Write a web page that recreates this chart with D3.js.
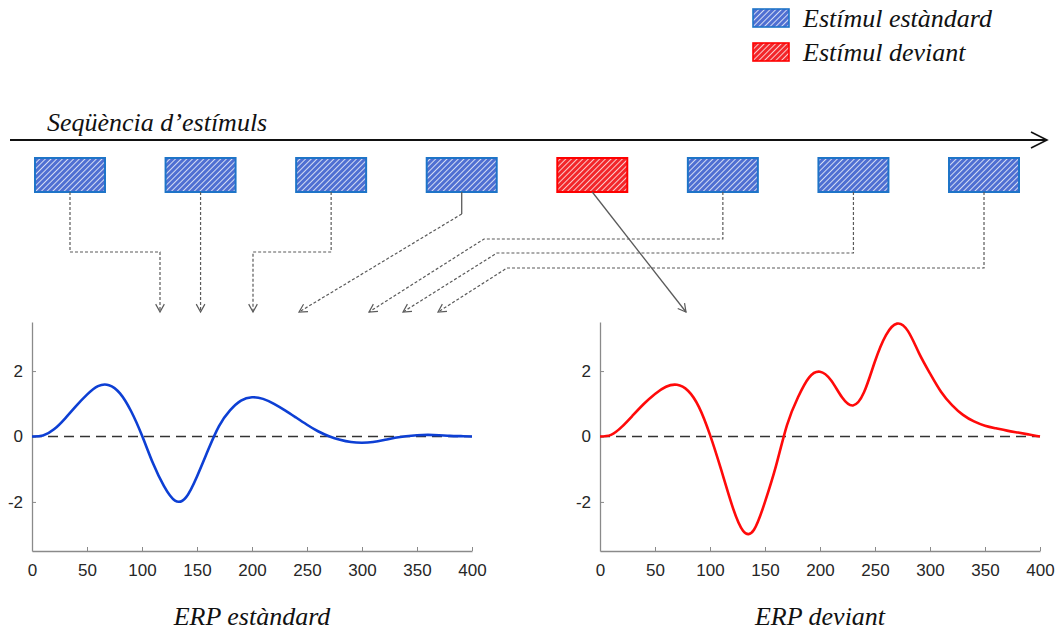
<!DOCTYPE html>
<html>
<head>
<meta charset="utf-8">
<script src="https://cdn.jsdelivr.net/npm/d3@7"></script>
<style>
  html, body { margin: 0; padding: 0; background: #fff; }
  svg { display: block; }
  .tick text { font-family: "Liberation Sans", Arial, sans-serif; font-size: 17px; fill: #262626; }
  .label { font-family: "Liberation Serif", "Times New Roman", serif; font-style: italic; fill: #111; }
</style>
</head>
<body>
<svg id="chart" width="1055" height="632"></svg>
<script>
// ---- Data ----------------------------------------------------------------
// Stimulus sequence (s = standard, d = deviant)
const stimulusTypes = ["s", "s", "s", "s", "d", "s", "s", "s"];

// ERP time axis (ms), sampled every 10 ms
const timeMs = [0, 10, 20, 30, 40, 50, 60, 70, 80, 90, 100, 110, 120, 130, 140, 150, 160, 170, 180, 190, 200,
  210, 220, 230, 240, 250, 260, 270, 280, 290, 300, 310, 320, 330, 340, 350, 360, 370, 380, 390, 400];

// Standard ERP amplitude
const erpStandard = [0, 0.03, 0.22, 0.55, 0.93, 1.28, 1.54, 1.57, 1.32, 0.78, 0.03, -0.82, -1.52, -1.96, -1.86,
  -1.22, -0.42, 0.32, 0.8, 1.1, 1.2, 1.15, 1.0, 0.8, 0.58, 0.36, 0.16, 0.01, -0.1, -0.17, -0.19, -0.17, -0.11,
  -0.04, 0.01, 0.04, 0.05, 0.04, 0.02, 0.01, 0];

// Deviant ERP amplitude
const erpDeviant = [0, 0.05, 0.3, 0.65, 1.0, 1.3, 1.52, 1.58, 1.4, 0.9, 0.05, -1.0, -2.1, -2.88, -2.85, -2.0,
  -0.9, 0.35, 1.2, 1.8, 1.98, 1.72, 1.2, 0.95, 1.35, 2.3, 3.1, 3.45, 3.22, 2.55, 1.93, 1.37, 0.96, 0.66, 0.46,
  0.33, 0.25, 0.18, 0.12, 0.06, 0];

const xTicks = [0, 50, 100, 150, 200, 250, 300, 350, 400];
const yTicks = [-2, 0, 2];

// ---- Setup ---------------------------------------------------------------
const svg = d3.select("#chart");
const defs = svg.append("defs");

function hatch(id, bg) {
  const p = defs.append("pattern")
    .attr("id", id).attr("patternUnits", "userSpaceOnUse")
    .attr("width", 4).attr("height", 4)
    .attr("patternTransform", "rotate(45)");
  p.append("rect").attr("width", 4).attr("height", 4).attr("fill", bg);
  p.append("line").attr("x1", 0).attr("y1", 0).attr("x2", 0).attr("y2", 4)
    .attr("stroke", "#fff").attr("stroke-width", 1.5);
}
hatch("hatchStd", "#4f6fd2");
hatch("hatchDev", "#f2262a");

const boxStyle = {
  s: { fill: "url(#hatchStd)", stroke: "#1e74c8" },
  d: { fill: "url(#hatchDev)", stroke: "#ff0000" }
};

// ---- Legend --------------------------------------------------------------
const legendItems = [
  { type: "s", text: "Estímul estàndard" },
  { type: "d", text: "Estímul deviant" }
];
const legendY = d3.scalePoint().domain(d3.range(legendItems.length)).range([9, 43]);
const lg = svg.append("g").selectAll("g").data(legendItems).join("g")
  .attr("transform", (d, i) => `translate(753,${legendY(i)})`);
lg.append("rect").attr("width", 36).attr("height", 18)
  .attr("fill", d => boxStyle[d.type].fill)
  .attr("stroke", d => boxStyle[d.type].stroke).attr("stroke-width", 1.6);
lg.append("text").attr("class", "label").attr("x", 50).attr("y", 18)
  .attr("font-size", 26).text(d => d.text);

// ---- Stimulus sequence ---------------------------------------------------
svg.append("text").attr("class", "label").attr("x", 47).attr("y", 131)
  .attr("font-size", 26).text("Seqüència d’estímuls");

const seqY = 140;
svg.append("line").attr("x1", 10).attr("x2", 1046).attr("y1", seqY).attr("y2", seqY)
  .attr("stroke", "#111").attr("stroke-width", 1.8);
svg.append("path").attr("d", `M1031,${seqY - 8} L1047,${seqY} L1031,${seqY + 8}`)
  .attr("fill", "none").attr("stroke", "#111").attr("stroke-width", 1.6);

const boxX = d3.scaleBand().domain(d3.range(stimulusTypes.length))
  .range([35, 1019]).paddingInner(0.464).paddingOuter(0);
const boxTop = 158, boxH = 34, boxBottom = boxTop + boxH;

svg.append("g").selectAll("rect").data(stimulusTypes).join("rect")
  .attr("x", (d, i) => boxX(i)).attr("y", boxTop)
  .attr("width", boxX.bandwidth()).attr("height", boxH)
  .attr("fill", d => boxStyle[d].fill)
  .attr("stroke", d => boxStyle[d].stroke).attr("stroke-width", 2);

// ---- Connectors from stimuli to the ERP panels ---------------------------
const cx = i => boxX(i) + boxX.bandwidth() / 2;
const tipY = 312;
const connectors = [
  { pts: [[cx(0), boxBottom], [cx(0), 252], [160, 252], [160, tipY]], dash: true },
  { pts: [[cx(1), boxBottom], [cx(1), tipY]], dash: true },
  { pts: [[cx(2), boxBottom], [cx(2), 252], [253, 252], [253, tipY]], dash: true },
  { pts: [[cx(3), boxBottom], [cx(3), 214]], dash: false, noHead: true },
  { pts: [[cx(3), 214], [299, tipY]], dash: true },
  { pts: [[cx(4), boxBottom], [686, tipY]], dash: false },
  { pts: [[cx(5), boxBottom], [cx(5), 239], [484, 239], [369, tipY]], dash: true },
  { pts: [[cx(6), boxBottom], [cx(6), 253], [497, 253], [403, tipY]], dash: true },
  { pts: [[cx(7), boxBottom], [cx(7), 268], [507, 268], [438, tipY]], dash: true }
];
const cg = svg.append("g").attr("fill", "none").attr("stroke", "#5a5a5a");
connectors.forEach(c => {
  cg.append("path").attr("d", d3.line()(c.pts))
    .attr("stroke-width", c.dash ? 1.2 : 1.3)
    .attr("stroke-dasharray", c.dash ? "3,2" : null);
  if (c.noHead) return;
  const [a, b] = c.pts.slice(-2);
  const ang = Math.atan2(b[1] - a[1], b[0] - a[0]);
  const L = 9, W = 0.5;
  const p1 = [b[0] - L * Math.cos(ang - W), b[1] - L * Math.sin(ang - W)];
  const p2 = [b[0] - L * Math.cos(ang + W), b[1] - L * Math.sin(ang + W)];
  cg.append("path").attr("d", d3.line()([p1, b, p2])).attr("stroke-width", 1.2);
});

// ---- ERP panels ----------------------------------------------------------
const panels = [
  { x0: 32, x1: 472, v: erpStandard, color: "#0d3fd4", title: "ERP estàndard" },
  { x0: 600, x1: 1040, v: erpDeviant, color: "#ff0a0a", title: "ERP deviant" }
];
const y = d3.scaleLinear().domain([-3.5, 3.5]).range([551, 322]);

panels.forEach(p => {
  const x = d3.scaleLinear().domain([0, 400]).range([p.x0, p.x1]);
  const g = svg.append("g");

  const xa = g.append("g").attr("transform", `translate(0,${y(-3.5)})`)
    .call(d3.axisBottom(x).tickValues(xTicks).tickSizeInner(-4).tickSizeOuter(0).tickPadding(13)
      .tickFormat(d => String(d)));
  const ya = g.append("g").attr("transform", `translate(${p.x0},0)`)
    .call(d3.axisLeft(y).tickValues(yTicks).tickSizeInner(-4).tickSizeOuter(0).tickPadding(9)
      .tickFormat(d => String(d)));
  [xa, ya].forEach(a => {
    a.select(".domain").attr("stroke", "#8a8a8a").attr("stroke-width", 1.3);
    a.selectAll(".tick line").attr("stroke", "#8a8a8a");
  });

  // zero baseline
  g.append("line").attr("x1", x(0)).attr("x2", x(400)).attr("y1", y(0)).attr("y2", y(0))
    .attr("stroke", "#333").attr("stroke-width", 1.3).attr("stroke-dasharray", "10,6");

  const line = d3.line().x((d, i) => x(timeMs[i])).y(d => y(d)).curve(d3.curveNatural);
  g.append("path").datum(p.v).attr("d", line)
    .attr("fill", "none").attr("stroke", p.color).attr("stroke-width", 2.6)
    .attr("stroke-linejoin", "round");

  g.append("text").attr("class", "label").attr("x", (p.x0 + p.x1) / 2).attr("y", 625)
    .attr("text-anchor", "middle").attr("font-size", 26).text(p.title);
});
</script>
</body>
</html>
